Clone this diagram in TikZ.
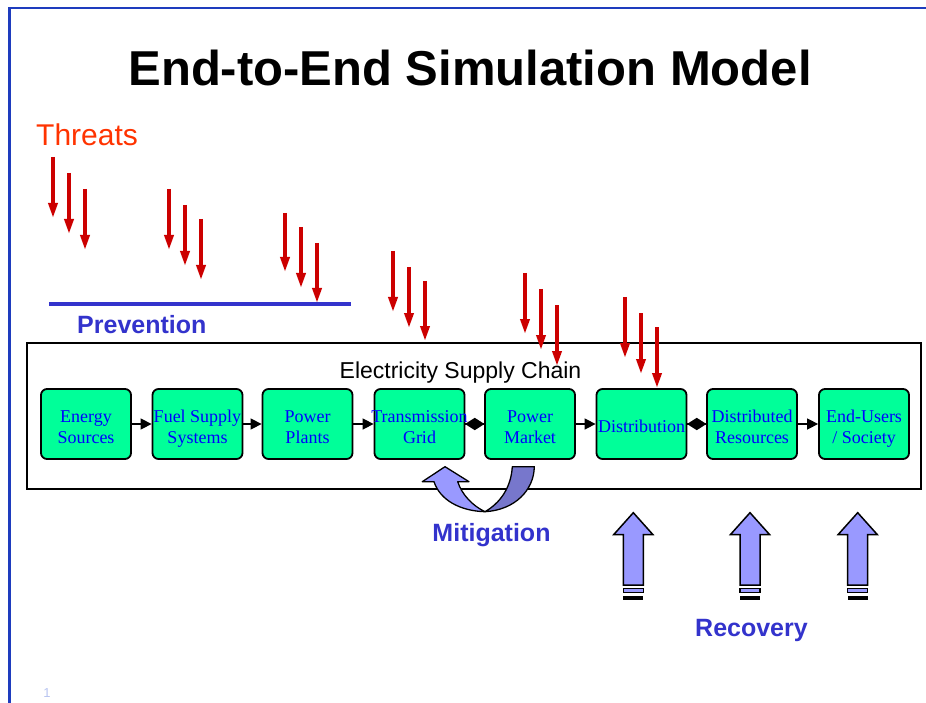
\documentclass[tikz,border=0pt]{standalone}
\usepackage{fontspec}
\setmainfont{Liberation Sans}
\newfontfamily\serifface{Liberation Serif}
\usetikzlibrary{arrows.meta,shapes.geometric}

\definecolor{frameblue}{HTML}{1E3CBE}
\definecolor{threatred}{HTML}{CC0000}
\definecolor{threattext}{HTML}{FF3300}
\definecolor{labelblue}{HTML}{3333CC}
\definecolor{boxgreen}{HTML}{00FF99}
\definecolor{boxtext}{HTML}{0000FF}
\definecolor{mitlight}{HTML}{9999FF}
\definecolor{mitdark}{HTML}{7777CC}
\definecolor{pagenum}{HTML}{B8C4F0}

% stage label: rows with fixed strut height, drawn a little lower than its box
\newcommand\stagetext[1]{\raisebox{-4.5pt}[\height][\depth]{\begin{tabular}{@{}c@{}}#1\end{tabular}}}

\begin{document}
\begin{tikzpicture}[x=1pt,y=-1pt,
  stage/.style={draw=black, line width=1.8pt, fill=boxgreen, rounded corners=6pt,
    minimum width=90pt, minimum height=70pt, inner sep=1pt, align=center,
    text=boxtext, font=\serifface\fontsize{18}{21.5}\selectfont},
  flow/.style={draw=black, line width=1.5pt, -{Triangle[length=11pt,width=11pt]}},
  link/.style={draw=black, line width=1.5pt},
  joint/.style={diamond, fill=black, inner sep=0pt, minimum width=20pt, minimum height=13pt},
  threat/.style={draw=threatred, line width=3.5pt, -{Triangle[length=15pt,width=9pt]}},
  tag/.style={text=labelblue, font=\bfseries\fontsize{25}{25}\selectfont, inner sep=0pt},
  recov/.style={fill=mitlight, draw=black, line width=1.5pt, line join=miter},
  ]
\useasboundingbox (0,0) rectangle (926,703);

% slide frame
\draw[frameblue, line width=2.5pt] (9.5,703) -- (9.5,8) -- (926,8);

% title
\node[anchor=base, inner sep=0pt, font=\bfseries\fontsize{49}{49}\selectfont] (title) at (470,86) {End-to-End Simulation Model};

% threat label and prevention line
\node[anchor=base west, inner sep=0pt, text=threattext, font=\fontsize{30}{30}\selectfont] (threats) at (36,146) {Threats};
\draw[labelblue, line width=3.5pt] (49,304) -- (351,304);
\node[tag, anchor=base west] (prevention) at (77,334) {Prevention};

% supply chain frame
\draw[black, line width=2pt] (26.5,343) rectangle (920.5,488.5);
\node[anchor=base, inner sep=0pt, font=\fontsize{23}{23}\selectfont] (chain) at (460.5,378.3) {Electricity Supply Chain};

% chain stages
\node[stage] (b1) at (86,424)    {\stagetext{Energy\\Sources}};
\node[stage] (b2) at (197.5,424) {\stagetext{\makebox[80pt]{Fuel Supply}\\Systems}};
\node[stage] (b3) at (307.5,424) {\stagetext{Power\\Plants}};
\node[stage] (b4) at (419.5,424) {\stagetext{\makebox[80pt]{Transmission}\\Grid}};
\node[stage] (b5) at (530,424)   {\stagetext{Power\\Market}};
\node[stage] (b6) at (641.5,424) {\stagetext{\makebox[80pt]{Distribution}}};
\node[stage] (b7) at (752,424)   {\stagetext{\makebox[80pt]{Distributed}\\Resources}};
\node[stage] (b8) at (864,424)   {\stagetext{End-Users\\/ Society}};

\draw[flow] (b1) -- (b2);
\draw[flow] (b2) -- (b3);
\draw[flow] (b3) -- (b4);
\draw[link] (b4) -- node[joint] {} (b5);
\draw[flow] (b5) -- (b6);
\draw[link] (b6) -- node[joint] {} (b7);
\draw[flow] (b7) -- (b8);

% threat arrows: x, start, tip
\foreach \x/\ya/\yb in {53/157/218, 69/173/234, 85/189/250,
                        169/189/250, 185/205/266, 201/219/280,
                        285/213/272, 301/227/288, 317/243/303,
                        393/251/312, 409/267/328, 425/281/341,
                        525/273/334, 541/289/350, 557/305/366,
                        625/297/358, 641/313/374, 657/327/388}
  \draw[threat] (\x,\ya) -- (\x,\yb);

% mitigation U-turn arrow
\filldraw[fill=mitlight, draw=black, line width=1.3pt, line join=round]
  (485,511.7) .. controls (460,511) and (440,500) .. (434,481.7)
  -- (422.3,481.7) -- (445,466.7) -- (469,481.7) -- (457.7,481.7)
  .. controls (462,495) and (473,506) .. cycle;
\filldraw[fill=mitdark, draw=black, line width=1.3pt, line join=round]
  (512.3,466.7) -- (534.3,466.7)
  .. controls (534,490) and (515,510) .. (485,511.7)
  .. controls (500,503) and (511,488) .. cycle;
\node[tag, anchor=base] (mitigation) at (491.5,541.7) {Mitigation};

% recovery arrows
\foreach \cx in {633.3, 750, 857.7} {
  \filldraw[recov] (\cx,512.7) -- (\cx+19.5,534.5) -- (\cx+10,534.5) -- (\cx+10,585)
    -- (\cx-10,585) -- (\cx-10,534.5) -- (\cx-19.5,534.5) -- cycle;
  \filldraw[fill=mitlight, draw=black, line width=1.2pt] (\cx-10,588.5) rectangle (\cx+10,592.5);
  \fill[black] (\cx-10,596) rectangle (\cx+10,599.5);
}
\node[tag, anchor=base] (recovery) at (751.5,636.7) {Recovery};

% page number
\node[text=pagenum, inner sep=0pt, font=\fontsize{13}{13}\selectfont] (page) at (47,693) {1};
\end{tikzpicture}
\end{document}
